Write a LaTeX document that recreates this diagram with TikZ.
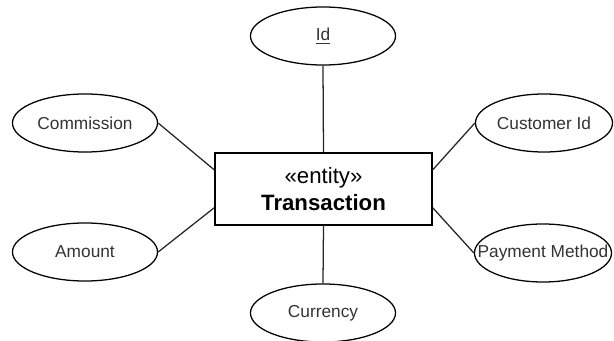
\documentclass[tikz,border=0pt]{standalone}
\usepackage{fontspec}
\setmainfont{Liberation Sans}
\usepackage{tikz}
\usetikzlibrary{shapes.geometric, calc}

\begin{document}
\begin{tikzpicture}[x=0.025cm, y=-0.025cm,
    attr/.style={ellipse, draw=black, line width=0.9pt, inner sep=0pt,
                 minimum width=3.625cm, minimum height=1.45cm,
                 font=\fontsize{12.3}{14}\selectfont, text=black!80},
    attrnarrow/.style={attr, minimum width=3.425cm},
    entitybox/.style={rectangle, draw=black, line width=0.9pt,
                      minimum width=5.425cm, minimum height=1.8cm,
                      font=\fontsize{15.8}{19}\selectfont, align=center},
    link/.style={draw=black!85, line width=0.9pt}
  ]
    \useasboundingbox (0,0) rectangle (614,341);
    % Entity
    \node[entitybox] (trans) at (323.5, 189) {«entity»\\\textbf{Transaction}};
    % Attributes (left)
    \node[attr] (comm)   at (85, 123) {\makebox[0pt]{Commission}};
    \node[attr] (amount) at (85, 252) {\makebox[0pt]{Amount}};
    % Attributes (top / bottom)
    \node[attr] (id)     at (323, 36)  {\makebox[0pt]{\underline{Id}}};
    \node[attr] (curr)   at (323, 313) {\makebox[0pt]{Currency}};
    % Attributes (right)
    \node[attrnarrow] (cust) at (544, 123) {\makebox[0pt]{Customer Id}};
    \node[attrnarrow] (pay)  at (543, 253) {\makebox[0pt]{Payment Method}};

    % Points on the entity sides
    \coordinate (trans-lt) at ($(trans.north west)!0.24!(trans.south west)$);
    \coordinate (trans-lb) at ($(trans.north west)!0.755!(trans.south west)$);
    \coordinate (trans-rt) at ($(trans.north east)!0.24!(trans.south east)$);
    \coordinate (trans-rb) at ($(trans.north east)!0.755!(trans.south east)$);

    % Connections
    \draw[link] (id.south)   -- (trans.north);
    \draw[link] (curr.north) -- (trans.south);
    \draw[link] (comm.east)  -- (trans-lt);
    \draw[link] (amount.east) -- (trans-lb);
    \draw[link] (cust.west)  -- (trans-rt);
    \draw[link] (pay.west)   -- (trans-rb);
  \end{tikzpicture}
\end{document}
